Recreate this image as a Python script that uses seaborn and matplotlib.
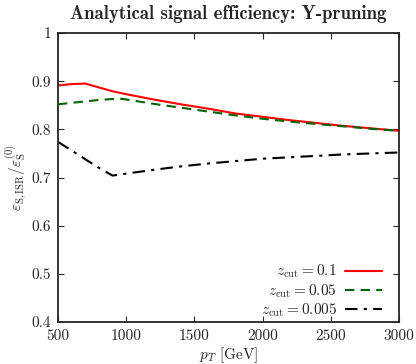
import matplotlib
matplotlib.use("Agg")
import matplotlib.pyplot as plt
import seaborn as sns
import pandas as pd

pt_red = [500, 600, 700, 800, 900, 1000, 1200, 1400, 1600, 1800, 2000, 2200, 2400, 2600, 2800, 3000]
eff_red = [0.891, 0.894, 0.895, 0.887, 0.879, 0.873, 0.862, 0.852, 0.843, 0.833, 0.826, 0.819, 0.813, 0.807, 0.802, 0.797]

pt_green = [500, 600, 700, 800, 900, 950, 1000, 1200, 1400, 1600, 1800, 2000, 2200, 2400, 2600, 2800, 3000]
eff_green = [0.852, 0.855, 0.858, 0.861, 0.863, 0.864, 0.862, 0.853, 0.845, 0.837, 0.829, 0.822, 0.816, 0.811, 0.806, 0.801, 0.797]

pt_black = [500, 600, 700, 800, 900, 1000, 1200, 1400, 1600, 1800, 2000, 2200, 2400, 2600, 2800, 3000]
eff_black = [0.774, 0.756, 0.738, 0.720, 0.704, 0.708, 0.716, 0.723, 0.729, 0.734, 0.739, 0.742, 0.745, 0.748, 0.750, 0.752]

labels = [r"$z_{\rm cut} = 0.1$", r"$z_{\rm cut} = 0.05$", r"$z_{\rm cut} = 0.005$"]
x_ticks = [500, 1000, 1500, 2000, 2500, 3000]
y_ticks = [0.4, 0.5, 0.6, 0.7, 0.8, 0.9, 1.0]
y_tick_labels = ["0.4", "0.5", "0.6", "0.7", "0.8", "0.9", "1"]

df = pd.concat([
    pd.DataFrame({"pt": pt_red, "eff": eff_red, "series": labels[0]}),
    pd.DataFrame({"pt": pt_green, "eff": eff_green, "series": labels[1]}),
    pd.DataFrame({"pt": pt_black, "eff": eff_black, "series": labels[2]}),
])

sns.set_style("ticks")
plt.rcParams["font.family"] = ["cmr10", "DejaVu Serif"]
plt.rcParams["mathtext.fontset"] = "cm"
plt.rcParams["axes.formatter.use_mathtext"] = True

fig = plt.figure(figsize=(4.16, 3.64), dpi=100)
ax = fig.add_axes([0.1394, 0.1154, 0.8196, 0.7939])

palette = {labels[0]: "#ff0000", labels[1]: "#006400", labels[2]: "#000000"}
styles = {labels[0]: "", labels[1]: (4.5, 3), labels[2]: (6, 3, 1.5, 3)}
sns.lineplot(data=df, x="pt", y="eff", hue="series", style="series",
             palette=palette, dashes=styles, linewidth=1.5, ax=ax, legend=True)

ax.set_xlim(500, 3000)
ax.set_ylim(0.4, 1.0)
ax.set_xticks(x_ticks)
ax.set_xticklabels([str(v) for v in x_ticks])
ax.set_yticks(y_ticks)
ax.set_yticklabels(y_tick_labels)
ax.tick_params(direction="in", top=True, right=True, length=4, width=0.8, labelsize=11, pad=5)
for s in ax.spines.values():
    s.set_linewidth(1.3)
    s.set_visible(True)

ax.set_xlabel(r"$p_T$ [GeV]", fontsize=11, labelpad=2)
ax.set_ylabel(r"$\varepsilon_{\rm S,ISR}/\varepsilon_{\rm S}^{(0)}$", fontsize=11, labelpad=2)
ax.set_title("Analytical signal efficiency: Y-pruning", fontsize=13.5,
             fontfamily=["cmb10", "DejaVu Serif"], pad=10)

handles, labs = ax.get_legend_handles_labels()
ax.legend(handles, labs, loc="lower right", bbox_to_anchor=(0.968, -0.012),
          frameon=False, markerfirst=False, borderaxespad=0.0,
          fontsize=11, handlelength=2.4, labelspacing=0.12,
          handletextpad=0.55)

fig.savefig("out.png", dpi=100)
